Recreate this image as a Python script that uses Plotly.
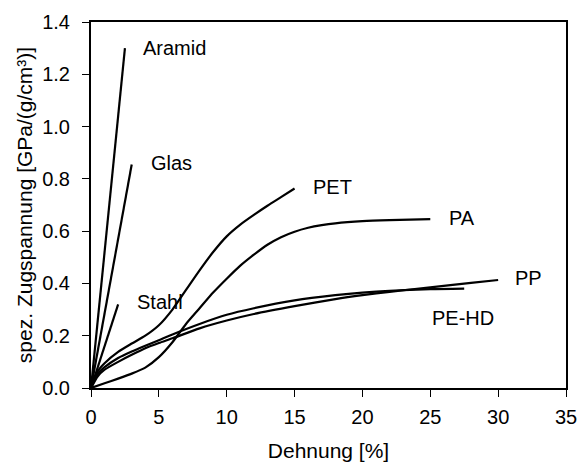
import plotly.graph_objects as go

# Strain [%] / specific tensile stress [GPa/(g/cm³)]
aramid_x = [0, 2.5]
aramid_y = [0, 1.30]
glas_x = [0, 3.0]
glas_y = [0, 0.855]
stahl_x = [0, 2.0]
stahl_y = [0, 0.32]
pet_x = [0, 0.5, 1, 2, 3, 4, 5, 6, 7, 8, 9, 10, 11, 12, 13, 14, 15]
pet_y = [0, 0.065, 0.095, 0.138, 0.17, 0.2, 0.24, 0.3, 0.375, 0.45, 0.52, 0.58, 0.625, 0.662, 0.697, 0.73, 0.763]
pa_x = [0, 1, 2, 3, 4, 5, 6, 7, 8, 9, 10, 11, 12, 13, 14, 15, 16, 17, 18, 20, 22, 25]
pa_y = [0, 0.018, 0.036, 0.055, 0.078, 0.118, 0.175, 0.245, 0.305, 0.365, 0.418, 0.468, 0.51, 0.548, 0.577, 0.598, 0.613, 0.623, 0.63, 0.638, 0.642, 0.646]
pehd_x = [0, 0.5, 1, 2, 3, 4, 5, 6, 8, 10, 12, 15, 18, 20, 22, 25, 27.5]
pehd_y = [0, 0.055, 0.08, 0.115, 0.14, 0.162, 0.183, 0.205, 0.245, 0.28, 0.305, 0.335, 0.355, 0.365, 0.372, 0.378, 0.38]
pp_x = [0, 0.5, 1, 2, 3, 4, 5, 6, 8, 10, 12, 15, 18, 20, 22, 25, 28, 30]
pp_y = [0, 0.045, 0.07, 0.10, 0.127, 0.152, 0.172, 0.19, 0.228, 0.258, 0.283, 0.313, 0.34, 0.355, 0.368, 0.385, 0.402, 0.413]

label_names = ["Aramid", "Glas", "Stahl", "PET", "PA", "PP", "PE-HD"]
label_x = [3.7, 4.3, 3.25, 16.2, 26.2, 31.1, 25.0]
label_y = [1.30, 0.86, 0.33, 0.77, 0.65, 0.42, 0.268]

x_ticks = [0, 5, 10, 15, 20, 25, 30, 35]
y_ticks = [0.0, 0.2, 0.4, 0.6, 0.8, 1.0, 1.2, 1.4]

FONT = "Arial, Liberation Sans, sans-serif"

fig = go.Figure()
for xs, ys in [(aramid_x, aramid_y), (glas_x, glas_y), (stahl_x, stahl_y),
               (pet_x, pet_y), (pa_x, pa_y), (pehd_x, pehd_y), (pp_x, pp_y)]:
    fig.add_trace(go.Scatter(x=xs, y=ys, mode="lines", line=dict(color="black", width=2.2, shape="spline", smoothing=0.6),
                             showlegend=False, hoverinfo="skip"))

for name, lx, ly in zip(label_names, label_x, label_y):
    fig.add_annotation(x=lx, y=ly, text=name, showarrow=False, xanchor="left", yanchor="middle",
                       font=dict(family=FONT, size=20, color="black"))

fig.update_layout(
    width=577, height=462,
    margin=dict(l=91, r=11, t=22, b=74),
    paper_bgcolor="white", plot_bgcolor="white",
    font=dict(family=FONT, size=20, color="black"),
    xaxis=dict(range=[0, 35], tickvals=x_ticks, ticks="outside", ticklen=7, tickwidth=1.2, tickcolor="black",
               showline=True, linecolor="black", linewidth=2, mirror=True, showgrid=False, zeroline=False,
               ticklabelstandoff=3, ticklabeloverflow="allow", automargin=False,
               title=dict(text="Dehnung [%]", font=dict(size=21), standoff=23)),
    yaxis=dict(range=[0, 1.4], tickvals=y_ticks, tickformat=".1f", ticks="outside", ticklen=7, tickwidth=1.2,
               tickcolor="black", showline=True, linecolor="black", linewidth=2, mirror=True, showgrid=False,
               zeroline=False, ticklabelstandoff=8, ticklabeloverflow="allow", automargin=False,
               title=dict(text="spez. Zugspannung [GPa/(g/cm³)]", font=dict(size=21), standoff=4)),
)

# Remove the browser's default body margin and scrollbars so the 577x462 figure fills the window exactly.
fig.write_html(
    "out.html",
    config={"displayModeBar": False},
    post_script="document.body.style.margin='0';document.documentElement.style.overflow='hidden';document.body.style.overflow='hidden';",
)
